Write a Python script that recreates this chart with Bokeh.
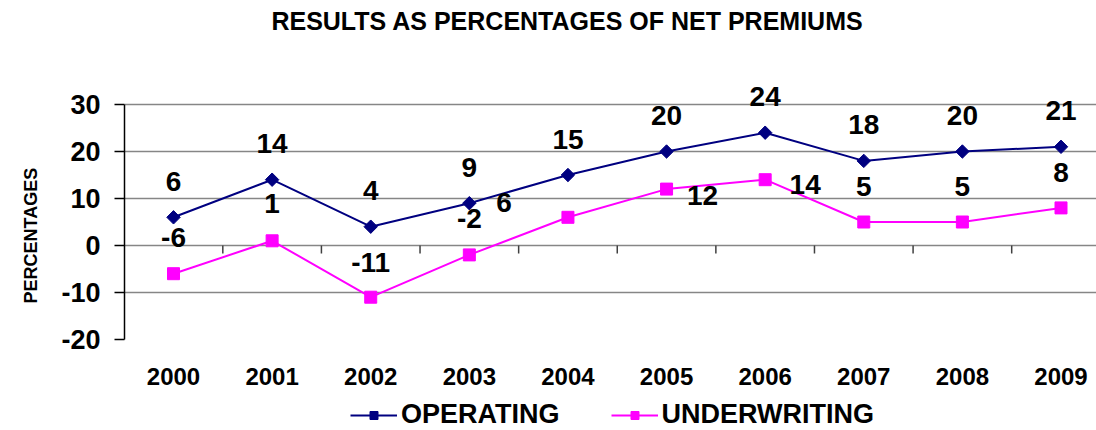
from bokeh.plotting import figure
from bokeh.models import ColumnDataSource, FixedTicker, Legend, LegendItem, Title, Label
from bokeh.layouts import column
from bokeh.core.properties import value
from bokeh.embed import file_html
from bokeh.resources import INLINE

# ---- data ----
years = ["2000", "2001", "2002", "2003", "2004", "2005", "2006", "2007", "2008", "2009"]
operating = [6, 14, 4, 9, 15, 20, 24, 18, 20, 21]
underwriting = [-6, 1, -11, -2, 6, 12, 14, 5, 5, 8]
y_ticks = [-20, -10, 0, 10, 20, 30]
series_names = ["OPERATING", "UNDERWRITING"]
title_text = "RESULTS AS PERCENTAGES OF NET PREMIUMS"
y_label = "PERCENTAGES"

# ---- label placement (style, pixels) ----
op_dx = [0] * 10
op_dy = [-36] * 10
uw_dx = [0, 0, 0, 0, -64, 36, 40, 0, 0, 0]
uw_dy = [-36, -37, -35, -36, -15, 6, 5, -36, -36, -35]

FONT = "Liberation Sans"
NAVY = "#000080"
MAGENTA = "#FF00FF"
GRID = "#868686"
W = 1096


def strip(height):
    f = figure(width=W, height=height, output_backend="svg", toolbar_location=None,
               x_axis_location=None, y_axis_location=None, x_range=(0, 1), y_range=(0, 1),
               min_border_left=0, min_border_right=0, min_border_top=0, min_border_bottom=0)
    f.outline_line_color = None
    f.xgrid.grid_line_color = None
    f.ygrid.grid_line_color = None
    return f


# ---- title strip ----
pt = strip(40)
pt.add_layout(Label(x=443, y=20, x_units="screen", y_units="screen", text=title_text,
                    text_align="center", text_baseline="middle", text_font=FONT,
                    text_font_size="25px", text_font_style="bold", text_color="black"))

xs = list(range(len(years)))
src_op = ColumnDataSource(dict(x=xs, y=operating, t=[str(v) for v in operating], dx=op_dx, dy=op_dy))
src_uw = ColumnDataSource(dict(x=xs, y=underwriting, t=[str(v) for v in underwriting], dx=uw_dx, dy=uw_dy))

# extra headroom above the top tick so the data labels are not clipped
head = 26 / 4.7
p = figure(width=W, height=351, output_backend="svg", toolbar_location=None,
           x_range=(-0.497, 9.36), y_range=(y_ticks[0], y_ticks[-1] + head),
           min_border_left=124, min_border_right=0, min_border_top=38, min_border_bottom=52)
p.outline_line_color = None
p.background_fill_color = "white"

# y axis
p.yaxis.ticker = FixedTicker(ticks=y_ticks)
p.yaxis.bounds = (y_ticks[0], y_ticks[-1])
p.yaxis.major_label_overrides = {t: str(t) for t in y_ticks}
p.yaxis.axis_line_color = "black"
p.yaxis.axis_line_width = 1.5
p.yaxis.major_tick_line_color = "black"
p.yaxis.major_tick_line_width = 1.5
p.yaxis.major_tick_out = 10
p.yaxis.major_tick_in = 0
p.yaxis.minor_tick_line_color = None
p.yaxis.major_label_standoff = 14
p.yaxis.major_label_text_font = FONT
p.yaxis.major_label_text_font_size = "27px"
p.yaxis.major_label_text_font_style = "bold"
p.yaxis.major_label_text_color = "black"

# y-axis title, placed along the plotted tick span
p.add_layout(Title(text=y_label, align="left", offset=36, standoff=36,
                   text_font=FONT, text_font_size="18px", text_font_style="bold",
                   text_color="black"), "left")

# x axis (category labels)
p.xaxis.ticker = FixedTicker(ticks=xs)
p.xaxis.major_label_overrides = {i: y for i, y in zip(xs, years)}
p.xaxis.axis_line_color = None
p.xaxis.major_tick_line_color = None
p.xaxis.minor_tick_line_color = None
p.xaxis.major_label_standoff = 22
p.xaxis.major_label_text_font = FONT
p.xaxis.major_label_text_font_size = "24px"
p.xaxis.major_label_text_font_style = "bold"
p.xaxis.major_label_text_color = "black"

# grid
p.xgrid.grid_line_color = None
p.ygrid.grid_line_color = GRID
p.ygrid.grid_line_width = 1.5

# category boundary ticks on the zero line
bounds = [i + 0.5 for i in xs]
p.segment(x0=bounds, y0=[0] * len(bounds), x1=bounds, y1=[-1.7] * len(bounds),
          line_color="#404040", line_width=1.5)

# series
line_style = [dict(line_color=NAVY, line_width=2), dict(line_color=MAGENTA, line_width=2)]
marker_style = [dict(marker="square", angle=0.785398, size=9.5, fill_color=NAVY, line_color=NAVY),
                dict(marker="square", size=12, fill_color=MAGENTA, line_color=MAGENTA)]
for src, ls, ms in zip((src_op, src_uw), line_style, marker_style):
    p.line("x", "y", source=src, **ls)
    p.scatter("x", "y", source=src, **ms)

# data labels
for src in (src_op, src_uw):
    p.text("x", "y", text="t", source=src, x_offset="dx", y_offset="dy",
           text_font=value(FONT), text_font_size="28px", text_font_style="bold",
           text_color="black", text_align="center", text_baseline="middle")

# ---- legend strip below the chart (legend-only renderers hold no visible points) ----
pl = strip(39)
nan_src = ColumnDataSource(dict(x=[float("nan")], y=[float("nan")]))
items = []
for name, ls, ms in zip(series_names, line_style, marker_style):
    r1 = pl.line("x", "y", source=nan_src, **ls)
    r2 = pl.scatter("x", "y", source=nan_src, **ms)
    items.append(LegendItem(label=name, renderers=[r1, r2]))
legend = Legend(items=items, location=(226, 0), orientation="horizontal",
                padding=0, margin=0, spacing=51, glyph_width=47, label_standoff=4,
                border_line_color=None, background_fill_alpha=0,
                label_text_font=FONT, label_text_font_size="27px",
                label_text_font_style="bold", label_text_color="black")
pl.add_layout(legend, "center")

layout = column(pt, p, pl, spacing=0)
open("out.html", "w").write(file_html(layout, INLINE))
